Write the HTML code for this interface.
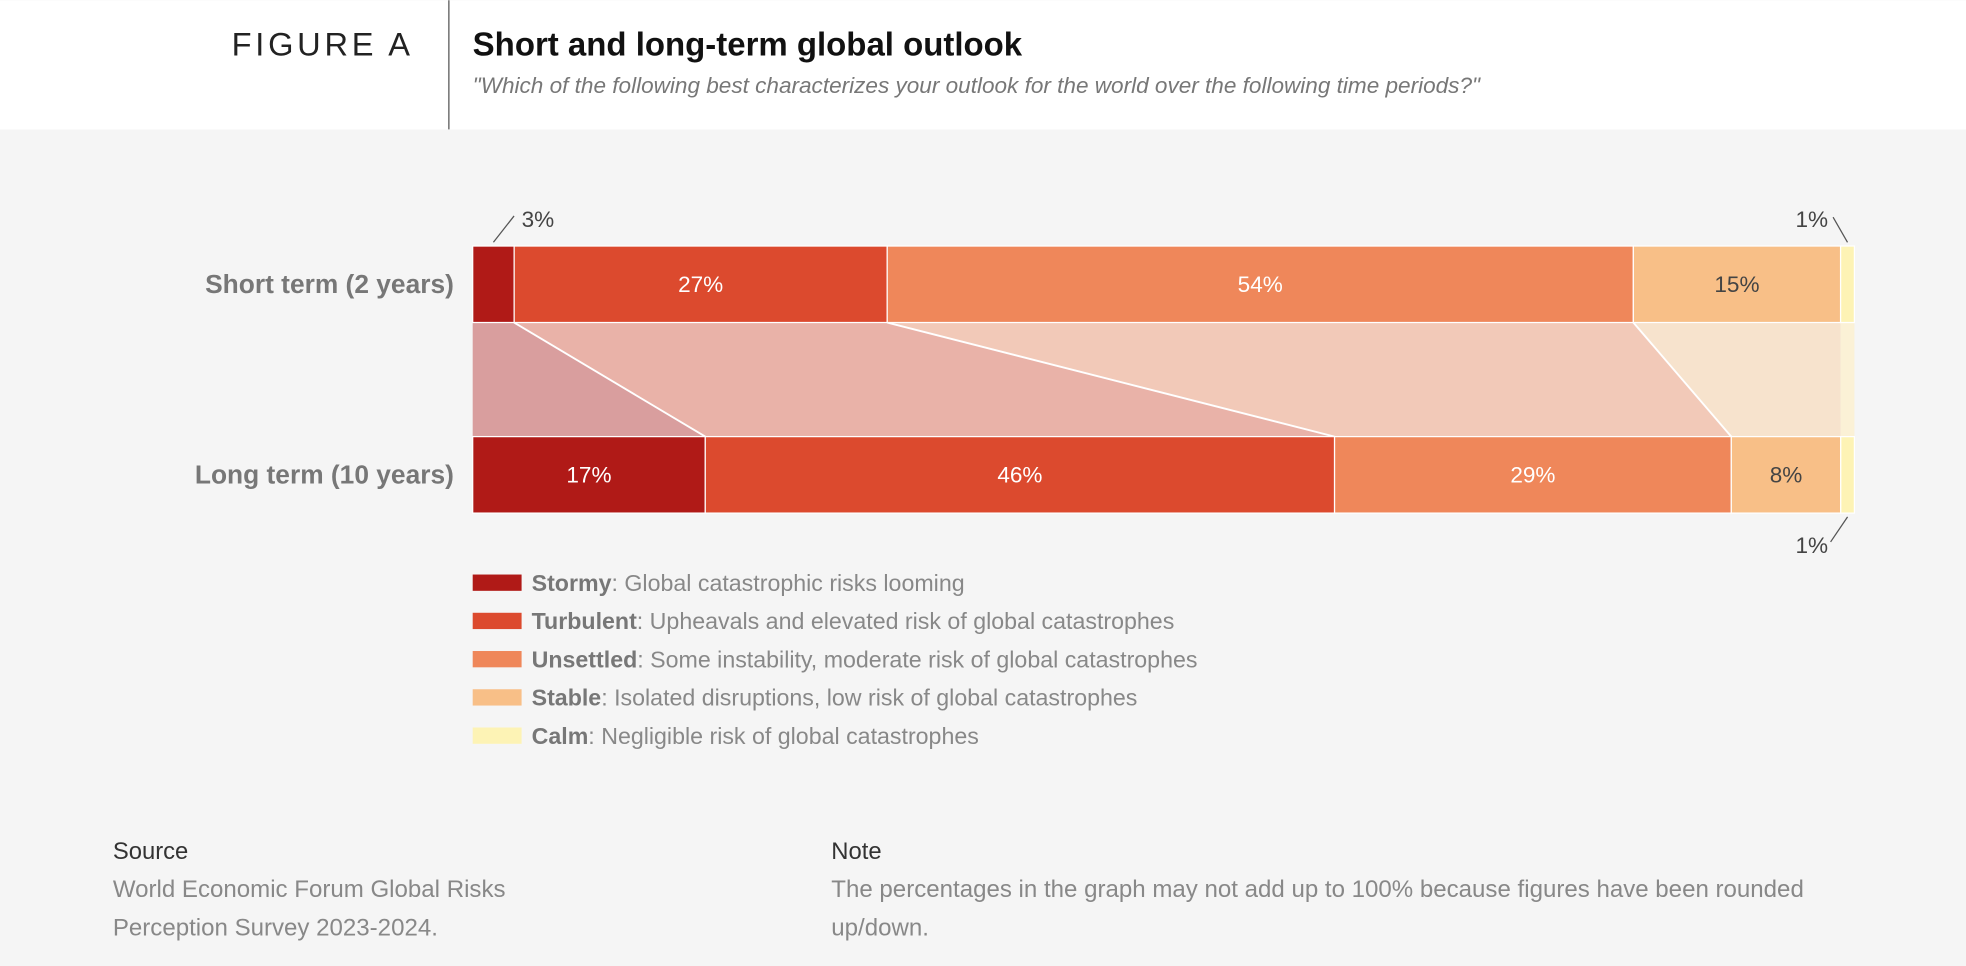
<!DOCTYPE html>
<html><head><meta charset="utf-8"><style>
html,body{margin:0;padding:0;width:1966px;height:966px;overflow:hidden;background:#f5f5f5;}
svg{display:block;font-family:"Liberation Sans",sans-serif;}
</style></head><body>
<svg id="chart" width="1966" height="966" viewBox="0 0 1568 770" xmlns="http://www.w3.org/2000/svg">
<rect x="0" y="0" width="1568" height="770" fill="#f5f5f5"/>
<rect x="0" y="0" width="1568" height="103" fill="#ffffff"/>
<line x1="358" y1="0" x2="358" y2="103" stroke="#555" stroke-width="1"/>
<text x="330" y="44" text-anchor="end" font-size="26" fill="#222" letter-spacing="3">FIGURE A</text>
<text x="377" y="44" font-size="26.3" font-weight="bold" fill="#111">Short and long-term global outlook</text>
<text x="377" y="74" font-size="18" font-style="italic" fill="#777">"Which of the following best characterizes your outlook for the world over the following time periods?"</text>
<g id="flows"></g>
<g id="bars"></g>
<g id="annot"></g>
<g id="legend"></g>
<text x="90" y="685" font-size="19" fill="#333">Source</text>
<text x="90" y="715" font-size="19.2" fill="#888">World Economic Forum Global Risks</text>
<text x="90" y="746" font-size="19.2" fill="#888">Perception Survey 2023-2024.</text>
<text x="663" y="685" font-size="19" fill="#333">Note</text>
<text x="663" y="715" font-size="19.2" fill="#888">The percentages in the graph may not add up to 100% because figures have been rounded</text>
<text x="663" y="746" font-size="19.2" fill="#888">up/down.</text>
</svg>
<script>
const categories = ["Stormy","Turbulent","Unsettled","Stable","Calm"];
const rowLabels = ["Short term (2 years)","Long term (10 years)"];
const shortTerm = [3,27,54,15,1];
const longTerm = [17,46,29,8,1];
const descriptions = ["Global catastrophic risks looming","Upheavals and elevated risk of global catastrophes","Some instability, moderate risk of global catastrophes","Isolated disruptions, low risk of global catastrophes","Negligible risk of global catastrophes"];

const colors = ["#b01a17","#dc4a2e","#ef875a","#f8bf87","#fdf3b5"];
const flowColors = ["#d99e9e","#e9b2a8","#f2c9b8","#f7e3cd","#fbf1d6"];
const textColors = ["#fff","#fff","#fff","#444","#444"];
const NS = "http://www.w3.org/2000/svg";
const X0 = 377, W = 1102;
function scaleFor(series){const tot = series.reduce((a,b)=>a+b,0);return v => X0 + v/tot*W;}
const xs = scaleFor(shortTerm), xl = scaleFor(longTerm);
const rowY = [196,348], BH = 61;
function mk(tag, attrs, parent){const e=document.createElementNS(NS,tag);for(const k in attrs)e.setAttribute(k,attrs[k]);parent.appendChild(e);return e;}
function cum(arr){const c=[0];arr.forEach(v=>c.push(c[c.length-1]+v));return c;}
const cs = cum(shortTerm), cl = cum(longTerm);
const flows = document.getElementById('flows');
for(let i=0;i<categories.length;i++){
  const p = mk('polygon',{points:`${xs(cs[i])},${rowY[0]+BH} ${xs(cs[i+1])},${rowY[0]+BH} ${xl(cl[i+1])},${rowY[1]} ${xl(cl[i])},${rowY[1]}`,fill:flowColors[i]},flows);
  
  
}
for(let i=1;i<categories.length-1;i++){
  const l = mk('line',{x1:xs(cs[i]),y1:rowY[0]+BH,x2:xl(cl[i]),y2:rowY[1],stroke:'#fff','stroke-width':1.5},flows);
  
  
}
const bars = document.getElementById('bars');
[shortTerm,longTerm].forEach((series,r)=>{
  const c = cum(series);
  const x = r ? xl : xs;
  const lab = mk('text',{x:362,y:rowY[r]+BH/2+7,'text-anchor':'end','font-size':21,'font-weight':'bold',fill:'#777'},bars);
  lab.textContent = rowLabels[r];
  
  
  series.forEach((v,i)=>{
    const rc = mk('rect',{x:x(c[i]),y:rowY[r],width:x(c[i+1])-x(c[i]),height:BH,fill:colors[i],stroke:'#fff','stroke-width':1},bars);
    
    
    if(v>=5){
      const t = mk('text',{x:(x(c[i])+x(c[i+1]))/2,y:rowY[r]+BH/2+6,'text-anchor':'middle','font-size':18,fill:textColors[i]},bars);
      t.textContent = v+'%';
      
      
    }
  });
});
const an = document.getElementById('annot');
function note(txt,tx,ty,anchor,x1,y1,x2,y2,name){
  const l = mk('polyline',{points:`${x1},${y1} ${x2},${y2}`,fill:'none',stroke:'#555','stroke-width':1},an);
  
  
  const t = mk('text',{x:tx,y:ty,'text-anchor':anchor,'font-size':18,fill:'#444'},an);
  t.textContent = txt;
  
  
}
const sc = xs(cs[0]+shortTerm[0]/2), ec = xs(cs[4]+shortTerm[4]/2), el = xl(cl[4]+longTerm[4]/2);
note(shortTerm[0]+'%',416,181,'start',sc,193,410,172,'annotation-short-stormy');
note(shortTerm[4]+'%',1458,181,'end',1462,173,ec,193,'annotation-short-calm');
note(longTerm[4]+'%',1458,441,'end',el,412,1460,432,'annotation-long-calm');
const lg = document.getElementById('legend');
categories.forEach((c,i)=>{
  const y = 458 + i*30.5;
  const s = mk('rect',{x:377,y:y,width:39,height:13,fill:colors[i]},lg);
  
  
  const t = mk('text',{x:424,y:y+13,'font-size':18.5,fill:'#888'},lg);
  
  
  const b = mk('tspan',{'font-weight':'bold',fill:'#777'},t); b.textContent = c;
  const d = mk('tspan',{},t); d.textContent = ': '+descriptions[i];
});
</script>
</body></html>
